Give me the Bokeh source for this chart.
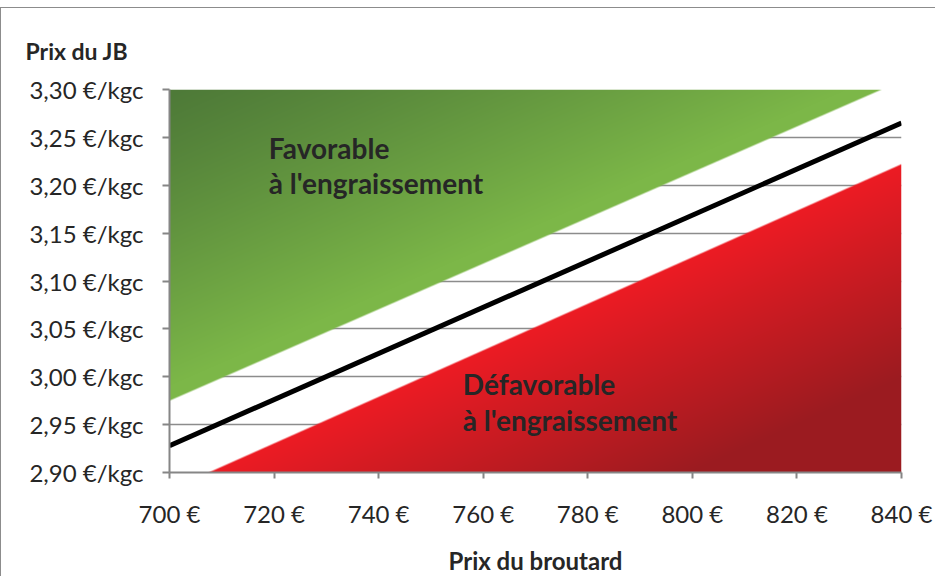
import numpy as np
from bokeh.plotting import figure
from bokeh.models import FixedTicker, Label, Range1d, Title
from bokeh.embed import file_html
from bokeh.resources import INLINE

# ---------------- data ----------------
prix_broutard_ticks = [700, 720, 740, 760, 780, 800, 820, 840]
prix_broutard_labels = ["700 €", "720 €", "740 €", "760 €", "780 €", "800 €", "820 €", "840 €"]
prix_jb_ticks = [2.90, 2.95, 3.00, 3.05, 3.10, 3.15, 3.20, 3.25, 3.30]
prix_jb_labels = ["2,90 €/kgc", "2,95 €/kgc", "3,00 €/kgc", "3,05 €/kgc", "3,10 €/kgc",
                  "3,15 €/kgc", "3,20 €/kgc", "3,25 €/kgc", "3,30 €/kgc"]

x_domain = [700, 840]
y_domain = [2.90, 3.30]

# seuil (black line)
seuil_x = [700, 840]
seuil_y = [2.928, 3.265]
# lower limit of the favourable (green) zone
favorable_x = [700, 836.2]
favorable_y = [2.975, 3.30]
# upper limit of the unfavourable (red) zone
defavorable_x = [707.5, 840]
defavorable_y = [2.90, 3.222]

zone_labels = ["Favorable", "à l'engraissement", "Défavorable", "à l'engraissement"]
zone_label_x = [719.0, 719.0, 756.1, 756.1]
zone_label_y = [3.2385, 3.2019, 2.992, 2.9547]

FONT = "Lato"
TXT = "#262626"

# ---------------- figure ----------------
p = figure(width=935, height=569,
           x_range=Range1d(x_domain[0], x_domain[1]),
           y_range=Range1d(y_domain[0], y_domain[1]),
           output_backend="svg", toolbar_location=None,
           min_border_left=168, min_border_right=35,
           min_border_top=81, min_border_bottom=105)
p.styles = {"margin-top": "7px", "margin-bottom": "-8px",
            "border-left": "1px solid #8c8c8c", "border-top": "1px solid #8c8c8c"}
p.outline_line_color = None
p.background_fill_color = "white"
p.border_fill_color = "white"

# gradient-filled zones rendered as an RGBA image in data space
x0, x1 = x_domain
y0, y1 = y_domain
nx, ny = 732, 383
xs = x0 + (np.arange(nx) + 0.5) * (x1 - x0) / nx
ys = y0 + (np.arange(ny) + 0.5) * (y1 - y0) / ny
X, Y = np.meshgrid(xs, ys)
pxs = nx / (x1 - x0)
pys = ny / (y1 - y0)

sg = (favorable_y[1] - favorable_y[0]) / (favorable_x[1] - favorable_x[0])
ng = np.sqrt(1 + (sg * pys / pxs) ** 2)
dg = (Y - (favorable_y[0] + sg * (X - favorable_x[0]))) * pys / ng
Dg = (y1 - (favorable_y[0] + sg * (x0 - favorable_x[0]))) * pys / ng
ag = np.clip(dg + 0.5, 0, 1)
tg = np.clip((1 - dg / Dg) / 0.95, 0, 1) ** 1.15

sr = (defavorable_y[1] - defavorable_y[0]) / (defavorable_x[1] - defavorable_x[0])
nr = np.sqrt(1 + (sr * pys / pxs) ** 2)
dr = ((defavorable_y[0] + sr * (X - defavorable_x[0])) - Y) * pys / nr
Dr = ((defavorable_y[0] + sr * (x1 - defavorable_x[0])) - y0) * pys / nr
ar = np.clip(dr + 0.5, 0, 1)
tr = np.clip(dr / (0.7 * Dr), 0, 1)

g_dark = np.array([78, 122, 56])
g_light = np.array([124, 183, 72])
r_bright = np.array([237, 28, 36])
r_dark = np.array([155, 27, 32])

gcol = g_dark[None, None, :] * (1 - tg[..., None]) + g_light[None, None, :] * tg[..., None]
rcol = r_bright[None, None, :] * (1 - tr[..., None]) + r_dark[None, None, :] * tr[..., None]
col = np.where((ag > 0)[..., None], gcol, rcol)
alpha = np.maximum(ag, ar)

img = np.zeros((ny, nx), dtype=np.uint32)
view = img.view(dtype=np.uint8).reshape((ny, nx, 4))
view[..., 0] = col[..., 0].astype(np.uint8)
view[..., 1] = col[..., 1].astype(np.uint8)
view[..., 2] = col[..., 2].astype(np.uint8)
view[..., 3] = (alpha * 255).astype(np.uint8)

p.image_rgba(image=[img], x=x0, y=y0, dw=x1 - x0, dh=y1 - y0)

# threshold line
p.line(seuil_x, seuil_y, line_color="black", line_width=5)

# zone labels
for t, lx, ly in zip(zone_labels, zone_label_x, zone_label_y):
    p.add_layout(Label(x=lx, y=ly, text=t, text_font=FONT, text_font_size="28px",
                       text_font_style="bold", text_color=TXT, text_baseline="alphabetic"))

# y axis title at top-left
p.add_layout(Title(text="Prix du JB", align="left", offset=-144, standoff=50,
                   text_font=FONT, text_font_size="23px", text_font_style="bold",
                   text_color=TXT), "above")

# axes
p.xaxis.ticker = FixedTicker(ticks=prix_broutard_ticks)
p.xaxis.major_label_overrides = {t: l for t, l in zip(prix_broutard_ticks, prix_broutard_labels)}
p.yaxis.ticker = FixedTicker(ticks=prix_jb_ticks)
p.yaxis.major_label_overrides = {t: l for t, l in zip(prix_jb_ticks, prix_jb_labels)}

for ax in (p.xaxis, p.yaxis):
    ax.axis_line_color = "#868686"
    ax.axis_line_width = 2
    ax.major_tick_line_color = "#868686"
    ax.major_tick_line_width = 2
    ax.major_tick_in = 0
    ax.minor_tick_line_color = None
    ax.major_label_text_font = FONT
    ax.major_label_text_font_size = "24px"
    ax.major_label_text_color = TXT

p.xaxis.major_tick_out = 6
p.yaxis.major_tick_out = 7
p.xaxis.major_label_standoff = 20
p.yaxis.major_label_standoff = 19

p.xaxis.axis_label = "Prix du broutard"
p.xaxis.axis_label_text_font = FONT
p.xaxis.axis_label_text_font_size = "24px"
p.xaxis.axis_label_text_font_style = "bold"
p.xaxis.axis_label_text_color = TXT
p.xaxis.axis_label_standoff = 15

p.xgrid.grid_line_color = None
p.ygrid.ticker = FixedTicker(ticks=prix_jb_ticks)
p.ygrid.grid_line_color = "#8c8c8c"
p.ygrid.grid_line_width = 1.5

open("out.html", "w").write(file_html(p, INLINE))
